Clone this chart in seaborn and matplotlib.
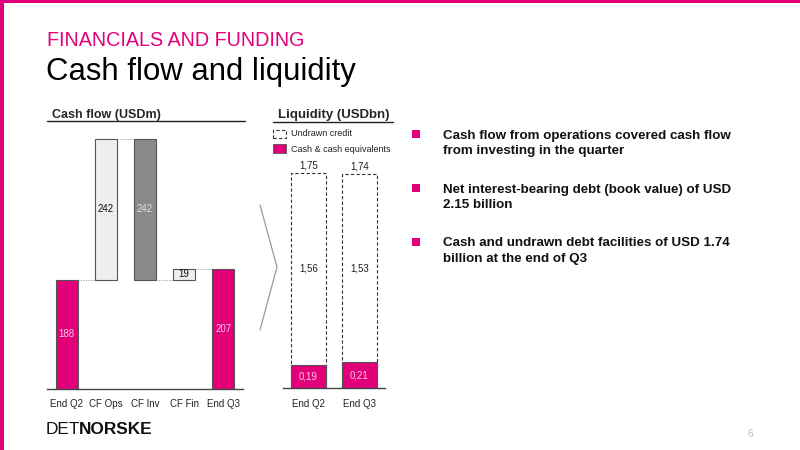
import matplotlib
matplotlib.use("Agg")
import matplotlib.pyplot as plt
from matplotlib.lines import Line2D
from matplotlib.patches import Rectangle
import seaborn as sns
import numpy as np

# ---------------- data ----------------
cf_categories = ["End Q2", "CF Ops", "CF Inv", "CF Fin", "End Q3"]
cf_values = [188, 242, -242, 19, 207]
cf_is_total = [True, False, False, False, True]

liq_categories = ["End Q2", "End Q3"]
liq_cash = [0.19, 0.21]
liq_undrawn = [1.56, 1.53]
liq_total = [1.75, 1.74]

bullets = [
    "Cash flow from operations covered cash flow\nfrom investing in the quarter",
    "Net interest-bearing debt (book value) of USD\n2.15 billion",
    "Cash and undrawn debt facilities of USD 1.74\nbillion at the end of Q3",
]

PINK = "#E2007A"
W, H = 800, 450

sns.set_theme(style="white")
plt.rcParams["font.family"] = ["Liberation Sans", "DejaVu Sans"]

fig = plt.figure(figsize=(8, 4.5), dpi=100)


def fx(x):
    return x / W


def fy(y):
    return 1 - y / H


# pink frame
fig.add_artist(Rectangle((0, 0), fx(4), 1, transform=fig.transFigure, color=PINK, lw=0))
fig.add_artist(Rectangle((0, fy(3)), 1, fy(0) - fy(3), transform=fig.transFigure, color=PINK, lw=0))

# titles
fig.text(fx(47), fy(46), "FINANCIALS AND FUNDING", color=PINK, fontsize=14.2, va="baseline", ha="left")
fig.text(fx(46), fy(80), "Cash flow and liquidity", color="black", fontsize=22.4, va="baseline", ha="left")

# ---------------- cash flow waterfall ----------------
px_per_unit = 0.582
ax1 = fig.add_axes([fx(47), fy(389), fx(243) - fx(47), (389 - 121) / H])
heights = [abs(v) for v in cf_values]
bottoms = []
running = 0
for v, tot in zip(cf_values, cf_is_total):
    if tot:
        bottoms.append(0)
        running = v
    else:
        if v >= 0:
            bottoms.append(running)
        else:
            bottoms.append(running + v)
        running += v

sns.barplot(x=cf_categories, y=heights, color="white", width=0.56, ax=ax1,
            edgecolor="#555555", linewidth=0.8, saturation=1)
fills = [PINK, "#EEEEEE", "#8A8A8A", "#EEEEEE", PINK]
label_cols = ["#F7C9E2", "#111111", "#E0E0E0", "#111111", "#F7C9E2"]
patches = ax1.patches[:len(cf_values)]
for p, b, fc in zip(patches, bottoms, fills):
    p.set_y(b)
    p.set_facecolor(fc)
for p, v, c in zip(patches, heights, label_cols):
    ax1.text(p.get_x() + p.get_width() / 2, p.get_y() + p.get_height() / 2, f"{v}",
             ha="center", va="center", fontsize=7, color=c)
# connectors
for i in range(len(patches) - 1):
    a, b = patches[i], patches[i + 1]
    if cf_is_total[i]:
        level = a.get_y() + a.get_height()
    else:
        level = a.get_y() + a.get_height() if cf_values[i] >= 0 else a.get_y()
    ax1.plot([a.get_x() + a.get_width(), b.get_x()], [level, level],
             color="#999999", lw=0.6, ls=(0, (1.5, 1.5)))
ax1.set_ylim(0, 268 / px_per_unit)
ax1.set_xlim(-0.5, 4.5)
sns.despine(ax=ax1, left=True, top=True, right=True)
ax1.spines["bottom"].set_color("#444444")
ax1.spines["bottom"].set_linewidth(1)
ax1.set_yticks([])
ax1.tick_params(axis="x", length=0, labelsize=7, pad=7, colors="#222222")
ax1.set_ylabel("")
ax1.set_facecolor("none")

fig.text(fx(52), fy(118), "Cash flow (USDm)", fontsize=9, fontweight="bold", va="baseline")
fig.add_artist(Line2D([fx(47), fx(245)], [fy(121), fy(121)], transform=fig.transFigure,
                      color="#222222", lw=1))

# ---------------- liquidity ----------------
liq_px = 123.0
ax2 = fig.add_axes([fx(283), fy(388), fx(385) - fx(283), (388 - 121) / H])
sns.barplot(x=liq_categories, y=liq_total, color="white", width=0.69, ax=ax2,
            edgecolor="#333333", linewidth=0.8, linestyle=(0, (3, 2)), saturation=1)
n_tot = len(ax2.patches)
sns.barplot(x=liq_categories, y=liq_cash, color=PINK, width=0.69, ax=ax2,
            edgecolor="#555555", linewidth=0.8, saturation=1)
tot_p = ax2.patches[:n_tot]
cash_p = ax2.patches[n_tot:]
for p in tot_p:
    p.set_facecolor("white")
for p, c, u, t in zip(cash_p, liq_cash, liq_undrawn, liq_total):
    cx = p.get_x() + p.get_width() / 2
    ax2.text(cx, c / 2, f"{c:.2f}".replace(".", ","), ha="center", va="center",
             fontsize=7, color="#F7C9E2")
    ax2.text(cx, c + u / 2, f"{u:.2f}".replace(".", ","), ha="center", va="center",
             fontsize=7, color="#222222")
    ax2.annotate(f"{t:.2f}".replace(".", ","), (cx, t), xytext=(0, 1.5),
                 textcoords="offset points", ha="center", va="bottom", fontsize=7,
                 color="#222222")
ax2.set_ylim(0, 267 / liq_px)
ax2.set_xlim(-0.5, 1.5)
sns.despine(ax=ax2, left=True, top=True, right=True)
ax2.spines["bottom"].set_color("#444444")
ax2.spines["bottom"].set_linewidth(1)
ax2.set_yticks([])
ax2.tick_params(axis="x", length=0, labelsize=7, pad=8, colors="#222222")
ax2.set_facecolor("none")

fig.text(fx(278), fy(118), "Liquidity (USDbn)", fontsize=9.5, fontweight="bold", va="baseline")
fig.add_artist(Line2D([fx(273), fx(393)], [fy(122), fy(122)], transform=fig.transFigure,
                      color="#222222", lw=1))

# legend
fig.add_artist(Rectangle((fx(273), fy(138)), fx(13), 8 / H, transform=fig.transFigure,
                         facecolor="white", edgecolor="#333333", lw=0.8, ls=(0, (3, 2))))
fig.add_artist(Rectangle((fx(273), fy(153)), fx(13), 9 / H, transform=fig.transFigure,
                         facecolor=PINK, edgecolor="#555555", lw=0.6))
fig.text(fx(291), fy(134), "Undrawn credit", fontsize=6.5, va="center", color="#222222")
fig.text(fx(291), fy(149), "Cash & cash equivalents", fontsize=6.5, va="center", color="#222222")

# chevron arrow
fig.add_artist(Line2D([fx(260), fx(277), fx(260)], [fy(205), fy(267), fy(330)],
                      transform=fig.transFigure, color="#9A9A9A", lw=0.9))

# bullets
for i, txt in enumerate(bullets):
    yc = 134 + 54 * i
    fig.add_artist(Rectangle((fx(412), fy(yc + 4)), fx(8), 8 / H, transform=fig.transFigure,
                             color=PINK, lw=0))
    fig.text(fx(443), fy(yc - 4.5), txt, fontsize=9.6, fontweight="bold", va="top", ha="left",
             linespacing=1.38, color="#111111")

# logo
renderer = fig.canvas.get_renderer()
t_det = fig.text(fx(46), fy(434), "DET", fontsize=12.4, va="baseline", ha="left", color="#111111")
bb = t_det.get_window_extent(renderer=renderer)
fig.text(bb.x1 / W - fx(1), fy(434), "NORSKE", fontsize=12.4, fontweight="bold", va="baseline",
         ha="left", color="#111111")
fig.text(fx(748), fy(437), "6", fontsize=7, color="#BBBBBB", va="baseline")

fig.savefig("out.png", dpi=100)
